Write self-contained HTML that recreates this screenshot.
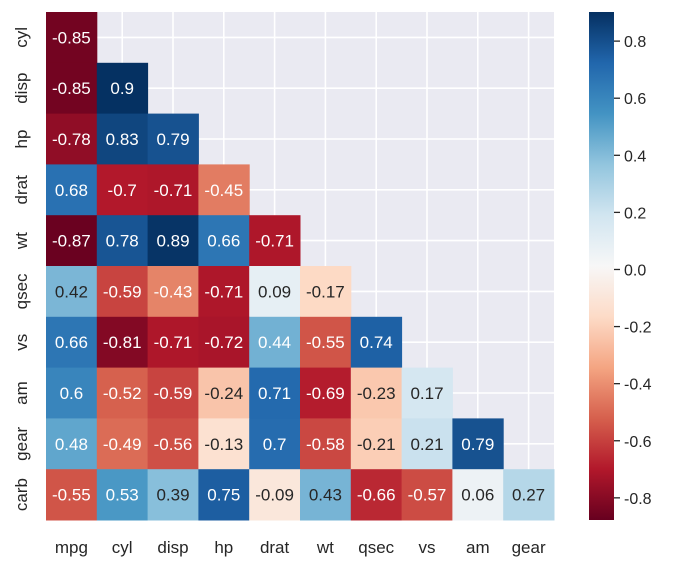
<!DOCTYPE html>
<html><head><meta charset="utf-8"><style>
body{margin:0;background:#fff;}
svg text{font-family:"Liberation Sans","NanumGothic",sans-serif;}
</style></head><body>
<svg id="chart" width="673" height="566" xmlns="http://www.w3.org/2000/svg"></svg>
<script>
const rowLabels = ["cyl","disp","hp","drat","wt","qsec","vs","am","gear","carb"];
const colLabels = ["mpg","cyl","disp","hp","drat","wt","qsec","vs","am","gear"];
const corrRows = [
 [-0.85],
 [-0.85,0.9],
 [-0.78,0.83,0.79],
 [0.68,-0.7,-0.71,-0.45],
 [-0.87,0.78,0.89,0.66,-0.71],
 [0.42,-0.59,-0.43,-0.71,0.09,-0.17],
 [0.66,-0.81,-0.71,-0.72,0.44,-0.55,0.74],
 [0.6,-0.52,-0.59,-0.24,0.71,-0.69,-0.23,0.17],
 [0.48,-0.49,-0.56,-0.13,0.7,-0.58,-0.21,0.21,0.79],
 [-0.55,0.53,0.39,0.75,-0.09,0.43,-0.66,-0.57,0.06,0.27]
];
const cbTicks = [0.8,0.6,0.4,0.2,0.0,-0.2,-0.4,-0.6,-0.8];
const vmin = -0.8776, vmax = 0.902;

const NS="http://www.w3.org/2000/svg";
const svg=document.getElementById('chart');
function el(t,a,p){const e=document.createElementNS(NS,t);for(const k in a)e.setAttribute(k,a[k]);(p||svg).appendChild(e);return e;}
const L=46,T=12,W=508,H=508;
const cw=W/colLabels.length, ch=H/rowLabels.length;
const xc=i=>L+cw*(i+0.5), yc=j=>T+ch*(j+0.5);
const anchors=["#67001f","#b2182b","#d6604d","#f4a582","#fddbc7","#f7f7f7","#d1e5f0","#92c5de","#4393c3","#2166ac","#053061"].map(h=>[1,3,5].map(i=>parseInt(h.substr(i,2),16)));
function cmap(v){let t=(v-vmin)/(vmax-vmin);t=Math.max(0,Math.min(1,t))*10;const i=Math.min(9,Math.floor(t)),f=t-i;return anchors[i].map((c,k)=>Math.round(c+(anchors[i+1][k]-c)*f));}
function lum(c){const l=c.map(x=>{x/=255;return x<=0.03928?x/12.92:Math.pow((x+0.055)/1.055,2.4)});return 0.2126*l[0]+0.7152*l[1]+0.0722*l[2];}

let bg=el('rect',{x:L,y:T,width:W,height:H,fill:'#eaeaf2'});

for(let i=0;i<colLabels.length;i++){const g=el('line',{x1:xc(i),x2:xc(i),y1:T,y2:T+H,stroke:'#fff','stroke-width':1.6});
}
for(let j=0;j<rowLabels.length;j++){const g=el('line',{y1:yc(j),y2:yc(j),x1:L,x2:L+W,stroke:'#fff','stroke-width':1.6});
}

corrRows.forEach((row,j)=>{row.forEach((v,i)=>{
 const c=cmap(v);
 const r=el('rect',{x:L+cw*i,y:T+ch*j,width:cw+0.5,height:ch+0.5,fill:`rgb(${c})`});
 
 const t=el('text',{x:xc(i),y:yc(j)+6,'text-anchor':'middle','font-size':17,fill:lum(c)>0.408?'#262626':'#ffffff'});
 t.textContent=String(v);
 
});});

colLabels.forEach((s,i)=>{const t=el('text',{x:xc(i),y:553,'text-anchor':'middle','font-size':17,fill:'#262626'});t.textContent=s;
});
rowLabels.forEach((s,j)=>{const t=el('text',{x:0,y:0,'text-anchor':'middle','font-size':17,fill:'#262626',transform:`translate(27,${yc(j)}) rotate(-90)`});t.textContent=s;
});

const CX=589,CW=25;
const cy=v=>T+(vmax-v)/(vmax-vmin)*H;
const defs=el('defs',{});
const grad=el('linearGradient',{id:'cbg',x1:0,y1:1,x2:0,y2:0},defs);
for(let k=0;k<=20;k++){const v=vmin+(vmax-vmin)*k/20;el('stop',{offset:k/20,'stop-color':`rgb(${cmap(v)})`},grad);}
const cb=el('rect',{x:CX,y:T,width:CW,height:H,fill:'url(#cbg)'});

cbTicks.forEach(v=>{
 const l=el('line',{x1:CX+CW,x2:CX+CW+6,y1:cy(v),y2:cy(v),stroke:'#262626','stroke-width':1.3});
 
 const t=el('text',{x:CX+CW+10,y:cy(v)+6,'font-size':16,fill:'#262626'});t.textContent=v.toFixed(1);
 
});
</script>
</body></html>
